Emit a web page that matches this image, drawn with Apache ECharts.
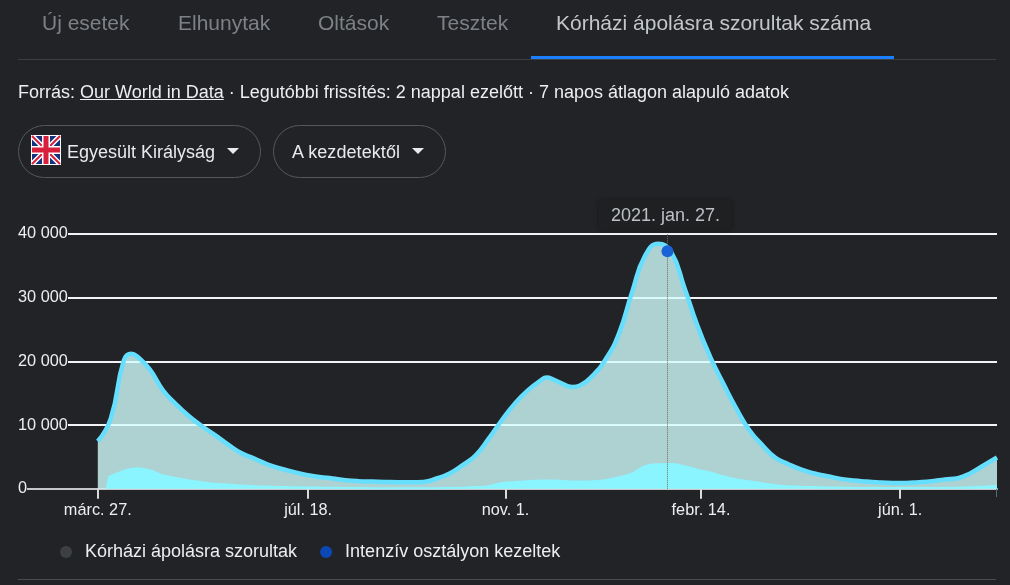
<!DOCTYPE html>
<html lang="hu"><head><meta charset="utf-8">
<script src="https://cdn.jsdelivr.net/npm/echarts@6/dist/echarts.min.js"></script>
<style>
html,body{margin:0;padding:0;width:1010px;height:585px;background:#222326;overflow:hidden;font-family:"Liberation Sans",Arial,sans-serif}
#chart{position:absolute;left:0;top:0;width:1010px;height:585px}
.a{position:absolute;white-space:nowrap}
.tab{top:11px;font-size:21px;line-height:24px;color:#7d8185}
.pill{border:1px solid #56595c;border-radius:27px;box-sizing:border-box;top:125px;height:53px}
.pt{top:142px;font-size:18px;line-height:21px;color:#e8eaed}
.tri{width:0;height:0;border-left:6px solid transparent;border-right:6px solid transparent;border-top:6px solid #e8eaed;top:148px}
</style></head><body>
<div id="chart"></div>
<span class="a tab" style="left:42px">Új esetek</span>
<span class="a tab" style="left:178px">Elhunytak</span>
<span class="a tab" style="left:318px">Oltások</span>
<span class="a tab" style="left:437px">Tesztek</span>
<span class="a tab" style="left:556px;color:#c4c7c9">Kórházi ápolásra szorultak száma</span>
<div class="a" style="left:18px;top:59px;width:978px;height:1px;background:#3c3e41"></div>
<div class="a" style="left:531px;top:56px;width:363px;height:3px;background:#1a80ff"></div>
<span class="a" style="left:18px;top:82px;font-size:18px;line-height:21px;color:#eceef0">Forrás: <u>Our World in Data</u> · Legutóbbi frissítés: 2 nappal ezelőtt · 7 napos átlagon alapuló adatok</span>
<div class="a pill" style="left:18px;width:243px"></div>
<svg class="a" style="left:31px;top:135px" width="30" height="30" viewBox="0 0 30 30">
<rect width="30" height="30" fill="#fff"/><rect x="1" y="1" width="28" height="28" fill="#12337e"/>
<path d="M1 1L29 29M29 1L1 29" stroke="#fff" stroke-width="5"/><path d="M1 1L29 29M29 1L1 29" stroke="#d81f3c" stroke-width="2"/>
<path d="M15 1V29M1 15H29" stroke="#fff" stroke-width="8"/><path d="M15 1V29M1 15H29" stroke="#d81f3c" stroke-width="5"/></svg>
<span class="a pt" style="left:67px">Egyesült Királyság</span><div class="a tri" style="left:227px"></div>
<div class="a pill" style="left:273px;width:173px"></div>
<span class="a pt" style="left:292px;letter-spacing:.08px">A kezdetektől</span><div class="a tri" style="left:412px"></div>
<div class="a" style="left:18px;top:579px;width:978px;height:1px;background:#4a4c4f"></div>
<script>
const hospitalDates=['2020-03-27','2020-04-03','2020-04-10','2020-04-14','2020-04-17','2020-04-24','2020-05-01','2020-05-08','2020-05-15','2020-05-22','2020-05-29','2020-06-05','2020-06-12','2020-06-19','2020-06-26','2020-07-03','2020-07-10','2020-07-17','2020-07-24','2020-07-31','2020-08-07','2020-08-14','2020-08-21','2020-08-28','2020-09-04','2020-09-11','2020-09-18','2020-09-25','2020-10-02','2020-10-09','2020-10-16','2020-10-23','2020-10-30','2020-11-06','2020-11-13','2020-11-20','2020-11-23','2020-11-27','2020-12-04','2020-12-07','2020-12-11','2020-12-18','2020-12-25','2021-01-01','2021-01-08','2021-01-15','2021-01-22','2021-01-29','2021-02-05','2021-02-12','2021-02-19','2021-02-26','2021-03-05','2021-03-12','2021-03-19','2021-03-26','2021-04-02','2021-04-09','2021-04-16','2021-04-23','2021-04-30','2021-05-07','2021-05-14','2021-05-21','2021-05-28','2021-06-04','2021-06-11','2021-06-18','2021-06-25','2021-07-02','2021-07-09','2021-07-16','2021-07-23'];
const hospitalValues=[7450,11050,20150,21200,20800,18700,15450,13250,11370,9800,8400,6930,5600,4730,3840,3170,2640,2170,1850,1600,1330,1180,1130,1070,1020,1020,1070,1600,2380,3690,5250,7870,10750,13360,15450,17000,17450,17100,16150,15970,16200,17800,20400,24400,30870,36600,38450,37150,31650,25650,20670,16500,12570,9180,6820,4840,3840,3000,2380,1960,1540,1280,1130,970,910,910,1020,1180,1440,1650,2480,3690,4900];
const icuDates=['2020-04-01','2020-04-02','2020-04-03','2020-04-10','2020-04-17','2020-04-24','2020-05-01','2020-05-08','2020-05-15','2020-05-22','2020-05-29','2020-06-05','2020-06-12','2020-06-19','2020-06-26','2020-07-03','2020-07-10','2020-07-17','2020-07-24','2020-07-31','2020-08-07','2020-08-14','2020-08-21','2020-08-28','2020-09-04','2020-09-11','2020-09-18','2020-09-25','2020-10-02','2020-10-09','2020-10-16','2020-10-23','2020-10-30','2020-11-06','2020-11-13','2020-11-20','2020-11-27','2020-12-04','2020-12-11','2020-12-18','2020-12-25','2021-01-01','2021-01-08','2021-01-15','2021-01-22','2021-01-29','2021-02-05','2021-02-12','2021-02-19','2021-02-26','2021-03-05','2021-03-12','2021-03-19','2021-03-26','2021-04-02','2021-04-09','2021-04-16','2021-04-23','2021-04-30','2021-05-07','2021-05-14','2021-05-21','2021-05-28','2021-06-04','2021-06-11','2021-06-18','2021-06-25','2021-07-02','2021-07-09','2021-07-16','2021-07-23'];
const icuValues=[0,1800,1960,2800,3200,2900,2100,1700,1280,1020,760,650,500,400,330,280,240,200,170,150,120,100,90,80,80,80,80,80,100,150,250,400,900,1070,1180,1280,1280,1180,1150,1180,1380,1800,2380,3530,3840,3890,3530,3000,2540,1960,1490,1180,860,550,400,300,250,200,170,140,120,100,100,100,100,110,130,160,220,320,450];
const tickDates=['2020-03-27','2020-07-18','2020-11-01','2021-02-14','2021-06-01'];
const tickLabels=['márc. 27.','júl. 18.','nov. 1.','febr. 14.','jún. 1.'];
const yTickLabels=['0','10 000','20 000','30 000','40 000'];
const hoverDate='2021-01-27', hoverLabel='2021. jan. 27.', hoverValue=37300;
const seriesNames=['Kórházi ápolásra szorultak','Intenzív osztályon kezeltek'];
const t=s=>Date.parse(s);
const textColor='#eceef0';
const chart=echarts.init(document.getElementById('chart'),null,{renderer:'canvas'});
chart.setOption({
  animation:false,
  backgroundColor:'transparent',
  textStyle:{fontFamily:'"Liberation Sans",Arial,sans-serif'},
  grid:{left:68,top:234,width:929,height:254.7,containLabel:false},
  xAxis:{type:'value',min:t('2020-03-11'),max:t('2021-07-23'),scale:true,
    axisLine:{show:true,onZero:false,lineStyle:{color:'#c4c6c8',width:2}},
    axisTick:{show:true,customValues:tickDates.map(t),length:10,lineStyle:{color:'#d8dadc',width:2}},
    axisLabel:{show:true,customValues:tickDates.map(t),color:textColor,fontSize:16.3,margin:14,hideOverlap:false,
      formatter:v=>tickLabels[tickDates.map(t).indexOf(v)]||''},
    splitLine:{show:false},minorTick:{show:false}},
  yAxis:{type:'value',min:0,max:40000,interval:10000,
    axisLine:{show:false},axisTick:{show:false},
    axisLabel:{color:textColor,fontSize:16.3,margin:50,align:'left',padding:[5,0,0,0],formatter:v=>yTickLabels[v/10000]},
    splitLine:{show:true,lineStyle:{color:'#f2f3f4',width:2}}},
  legend:{left:55,top:538,icon:'circle',itemWidth:12,itemHeight:12,itemGap:23,
    textStyle:{color:textColor,fontSize:18,padding:[0,0,0,8]},
    data:[{name:seriesNames[0],itemStyle:{color:'#3c4043',borderWidth:0,opacity:1}},{name:seriesNames[1],itemStyle:{color:'#0b47b5',borderWidth:0,opacity:1}}],
    selectedMode:false},
  graphic:[{type:'line',z:1,shape:{x1:27,y1:489,x2:69,y2:489},style:{stroke:'#c4c6c8',lineWidth:2}},
           {type:'line',z:1,shape:{x1:996.5,y1:489,x2:996.5,y2:497},style:{stroke:'#4d7078',lineWidth:1}}],
  series:[
    {name:seriesNames[0],type:'line',z:3,smooth:0.5,symbol:'none',clip:false,
     data:hospitalDates.map((d,i)=>[t(d),hospitalValues[i]]),
     lineStyle:{color:'#66dfff',width:4.5},itemStyle:{color:'#66dfff'},
     areaStyle:{color:'rgb(210,252,254)',opacity:0.8},
     markLine:{silent:true,symbol:'none',animation:false,z:6,
       lineStyle:{color:'#7a6a50',type:[1,1],width:1,opacity:1},
       label:{show:true,position:'end',distance:3,offset:[-2,-1],formatter:hoverLabel,color:'#bdc1c6',fontSize:18,
         backgroundColor:'#1f2022',padding:[7,12,5,12],borderRadius:4,shadowBlur:4,shadowColor:'rgba(0,0,0,.35)'},
       data:[[{coord:[t(hoverDate),0]},{coord:[t(hoverDate),40000]}]]},
     markPoint:{silent:true,animation:false,z:7,symbol:'circle',symbolSize:12,itemStyle:{color:'#1a62d6'},label:{show:false},
       data:[{coord:[t(hoverDate),hoverValue]}]}},
    {name:seriesNames[1],type:'line',z:4,smooth:0.5,symbol:'none',
     data:icuDates.map((d,i)=>[t(d),icuValues[i]]),
     lineStyle:{color:'#8af4ff',width:2},itemStyle:{color:'#8af4ff'},
     areaStyle:{color:'#8af4ff',opacity:1}}
  ]
});
</script></body></html>
